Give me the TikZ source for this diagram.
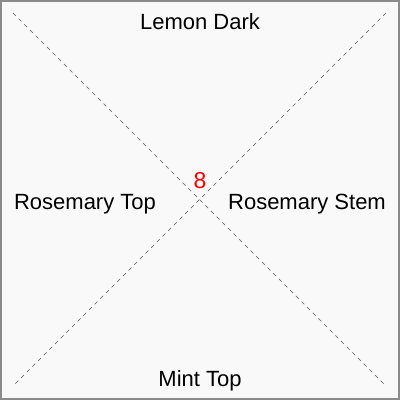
\documentclass[tikz,border=0pt]{standalone}
\usepackage{fontspec}
\setmainfont{Liberation Sans}
\usepackage{tikz}
\usetikzlibrary{positioning}
\definecolor{paper}{HTML}{F9F9F9}
\definecolor{framec}{HTML}{8A8A8A}
\definecolor{inkg}{HTML}{555555}
\tikzset{
  lbl/.style={font=\fontsize{22}{24}\selectfont, text=black, inner sep=0pt},
  cnt/.style={font=\fontsize{23}{26}\selectfont, text=red, inner sep=0pt},
  diag/.style={draw=inkg, line width=0.7pt, dash pattern=on 4pt off 4pt},
}
\begin{document}
\begin{tikzpicture}[x=1pt, y=-1pt]
  \useasboundingbox (0,0) rectangle (400,400);
  \draw[framec, fill=paper, line width=2pt] (1,1) rectangle (399,399);
  \coordinate (nw) at (13,13);
  \coordinate (ne) at (386,13);
  \coordinate (sw) at (13,386);
  \coordinate (se) at (386,386);
  \draw[diag] (nw) -- (se);
  \draw[diag] (ne) -- (sw);
  \node[lbl] (lemon) at (200,22) {Lemon Dark};
  \node[lbl] (rostop) at (85,204) {Rosemary Top};
  \node[lbl] (rosstem) at (307,204) {Rosemary Stem};
  \node[lbl] (mint) at (200,381) {Mint Top};
  \node[cnt] (count) at (200,181) {8};
\end{tikzpicture}
\end{document}
